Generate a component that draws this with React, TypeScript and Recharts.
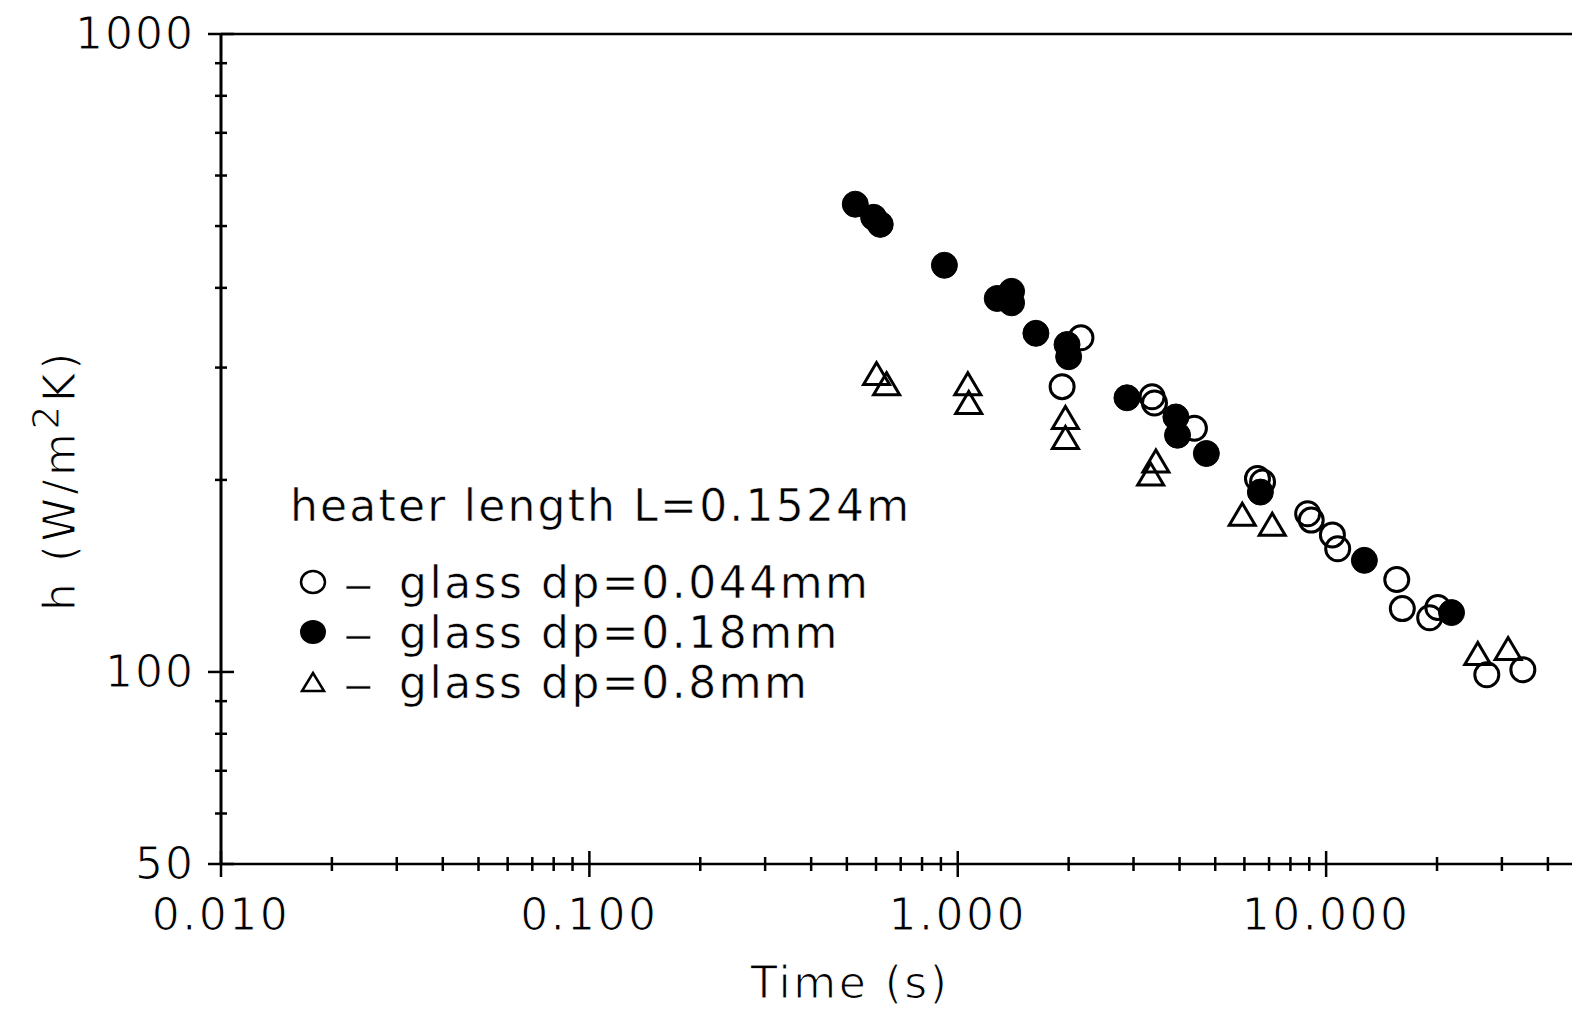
import React from "react";
import { ScatterChart, Scatter, XAxis, YAxis, ReferenceLine, Legend } from "recharts";

// glass dp=0.044mm (open circles)
const fineTime = [2.16, 1.92, 3.37, 3.42, 4.39, 6.51, 6.72, 8.91, 9.11, 10.4, 10.75, 15.55, 16.1, 20.1, 19.1, 27.3, 34.2];
const fineH = [334, 280, 270, 264, 241, 201, 198.5, 177, 173, 164, 156, 139.6, 125.7, 126.2, 121.6, 99, 100.8];

// glass dp=0.18mm (filled circles)
const mediumTime = [0.527, 0.591, 0.616, 0.92, 1.28, 1.4, 1.4, 1.63, 1.98, 2.0, 2.88, 3.91, 3.95, 4.73, 6.63, 12.7, 21.9];
const mediumH = [541, 516, 503, 434, 385, 395, 379, 339.5, 326, 312, 269, 251, 235, 220, 191.4, 149.6, 123.9];

// glass dp=0.8mm (triangles)
const coarseTime = [0.602, 0.641, 1.065, 1.071, 1.96, 1.96, 3.45, 3.34, 5.92, 7.14, 25.8, 31.2];
const coarseH = [292.5, 282, 282, 263.6, 249.6, 232.2, 213.4, 203.5, 176.1, 169.8, 106.5, 108.4];

const xTicks = [
  0.01, 0.02, 0.03, 0.04, 0.05, 0.06, 0.07, 0.08, 0.09,
  0.1, 0.2, 0.3, 0.4, 0.5, 0.6, 0.7, 0.8, 0.9,
  1, 2, 3, 4, 5, 6, 7, 8, 9,
  10, 20, 30, 40,
];
const xMajor = [0.01, 0.1, 1, 10];
const xLabels = ["0.010", "0.100", "1.000", "10.000"];

const yTicks = [50, 60, 70, 80, 90, 100, 200, 300, 400, 500, 600, 700, 800, 900, 1000];
const yMajor = [50, 100, 1000];
const yLabels = ["50", "100", "1000"];

const legendTitle = "heater length L=0.1524m";
const seriesNames = ["glass dp=0.044mm", "glass dp=0.18mm", "glass dp=0.8mm"];

const FONT = "'DejaVu Sans', sans-serif";
const INK = "#000";

// thin the glyphs a little, the original plotter font is light
const svgThin = { stroke: "#fff", strokeWidth: 1.1 };
const htmlThin = { WebkitTextStroke: "0.55px #fff" } as React.CSSProperties;

const toPoints = (xs: number[], ys: number[]) => xs.map((t, i) => ({ t, h: ys[i] }));

function TimeTick(props: any) {
  const { x, y, payload } = props;
  const i = xMajor.indexOf(payload.value);
  const len = i >= 0 ? 13 : 7;
  return (
    <g>
      <line x1={x} x2={x} y1={y - len} y2={y + len} stroke={INK} strokeWidth={2.5} />
      {i >= 0 && (
        <text x={x} y={y + 66} textAnchor="middle" fontFamily={FONT} fontSize={44} fill={INK} {...svgThin} style={{ letterSpacing: 2.5 }}>
          {xLabels[i]}
        </text>
      )}
    </g>
  );
}

function HTick(props: any) {
  const { x, y, payload } = props;
  const i = yMajor.indexOf(payload.value);
  const len = i >= 0 ? 13 : 6;
  return (
    <g>
      <line x1={x - len} x2={x + len} y1={y} y2={y} stroke={INK} strokeWidth={2.5} />
      {i >= 0 && (
        <text x={x - 26} y={y + 15} textAnchor="end" fontFamily={FONT} fontSize={44} fill={INK} {...svgThin} style={{ letterSpacing: 2 }}>
          {yLabels[i]}
        </text>
      )}
    </g>
  );
}

const OpenCircle = (p: any) => <circle cx={p.cx} cy={p.cy} r={12} fill="none" stroke={INK} strokeWidth={3} />;
const FilledCircle = (p: any) => <circle cx={p.cx} cy={p.cy} r={13} fill={INK} stroke={INK} strokeWidth={1} />;
const Triangle = (p: any) => (
  <polygon
    points={`${p.cx},${p.cy - 12} ${p.cx - 13},${p.cy + 10} ${p.cx + 13},${p.cy + 10}`}
    fill="none"
    stroke={INK}
    strokeWidth={3}
  />
);

function LegendBox() {
  const textStyle: React.CSSProperties = {
    position: "absolute",
    fontFamily: FONT,
    fontSize: 44,
    lineHeight: "49px",
    letterSpacing: 2.5,
    color: INK,
    whiteSpace: "pre",
    ...htmlThin,
  };
  const rows = [0, 1, 2];
  return (
    <div style={{ position: "relative" }}>
      <div style={{ ...textStyle, left: 290, top: 481, letterSpacing: 2.2 }}>{legendTitle}</div>
      {rows.map((r) => {
        const cy = 582 + r * 50;
        return (
          <React.Fragment key={r}>
            <svg style={{ position: "absolute", left: 298, top: cy - 15 }} width={30} height={30}>
              {r === 0 && <ellipse cx={15} cy={15} rx={12} ry={11} fill="none" stroke={INK} strokeWidth={2.5} />}
              {r === 1 && <ellipse cx={15} cy={15} rx={13} ry={12} fill={INK} />}
              {r === 2 && <polygon points="15,6 4,24 26,24" fill="none" stroke={INK} strokeWidth={2.5} />}
            </svg>
            <div style={{ ...textStyle, left: 343, top: cy - 22, transform: "scaleX(1.4)", transformOrigin: "0 0" }}>–</div>
            <div style={{ ...textStyle, left: 399, top: cy - 24 }}>{seriesNames[r]}</div>
          </React.Fragment>
        );
      })}
    </div>
  );
}

export default function App() {
  return (
    <div style={{ position: "absolute", left: 0, top: 0, width: 1572, height: 1013, overflow: "hidden", background: "#fff" }}>
      <ScatterChart width={1572} height={1013} margin={{ top: 34, right: 0, bottom: 0, left: 0 }}>
        <XAxis
          type="number"
          dataKey="t"
          scale="log"
          domain={[0.01, 46.5]}
          allowDataOverflow
          ticks={xTicks}
          interval={0}
          height={149}
          tickSize={0}
          tickMargin={0}
          tickLine={false}
          axisLine={{ stroke: INK, strokeWidth: 2.5 }}
          tick={<TimeTick />}
          label={{
            content: () => (
              <text x={850} y={998} textAnchor="middle" fontFamily={FONT} fontSize={44} fill={INK} {...svgThin} style={{ letterSpacing: 2.5 }}>
                Time (s)
              </text>
            ),
          }}
        />
        <YAxis
          type="number"
          dataKey="h"
          scale="log"
          domain={[50, 1000]}
          allowDataOverflow
          ticks={yTicks}
          interval={0}
          width={221}
          tickSize={0}
          tickMargin={0}
          tickLine={false}
          axisLine={{ stroke: INK, strokeWidth: 3 }}
          tick={<HTick />}
          label={{
            content: () => (
              <text
                x={75}
                y={480}
                transform="rotate(-90, 75, 480)"
                textAnchor="middle"
                fontFamily={FONT}
                fontSize={44}
                fill={INK}
                {...svgThin}
                style={{ letterSpacing: 3.5 }}
              >
                h (W/m
                <tspan dy={-16} fontSize={38}>2</tspan>
                <tspan dy={16}>K)</tspan>
              </text>
            ),
          }}
        />
        <ReferenceLine y={1000} stroke={INK} strokeWidth={2.5} />
        <Legend
          layout="horizontal"
          verticalAlign="middle"
          align="center"
          wrapperStyle={{ left: 0, top: 0, width: 0, height: 0 }}
          content={() => <LegendBox />}
        />
        <Scatter name={seriesNames[2]} data={toPoints(coarseTime, coarseH)} shape={Triangle} isAnimationActive={false} />
        <Scatter name={seriesNames[0]} data={toPoints(fineTime, fineH)} shape={OpenCircle} isAnimationActive={false} />
        <Scatter name={seriesNames[1]} data={toPoints(mediumTime, mediumH)} shape={FilledCircle} isAnimationActive={false} />
      </ScatterChart>
    </div>
  );
}
